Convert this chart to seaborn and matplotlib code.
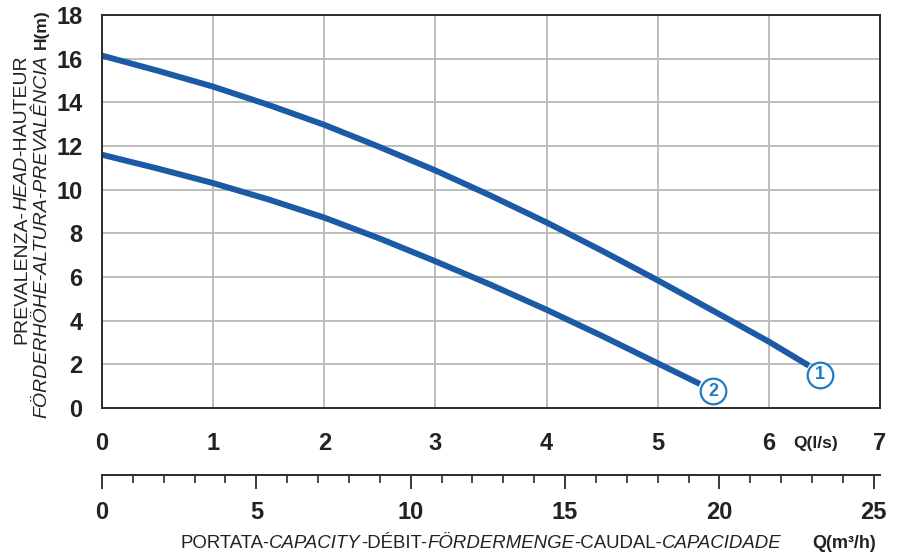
import matplotlib

matplotlib.use("Agg")

import matplotlib.pyplot as plt
import pandas as pd
import seaborn as sns
from matplotlib.ticker import MultipleLocator
from matplotlib.transforms import IdentityTransform

# Pump curves: Q in l/s, H in m
q_curve1 = [0, 0.5, 1, 1.5, 2, 2.5, 3, 3.5, 4, 4.5, 5, 5.5, 6, 6.36]
h_curve1 = [16.14, 15.45, 14.72, 13.88, 12.97, 11.95, 10.88, 9.72, 8.5, 7.2, 5.85, 4.45, 3.04, 1.94]
q_curve2 = [0, 0.5, 1, 1.5, 2, 2.5, 3, 3.5, 4, 4.5, 5, 5.38]
h_curve2 = [11.6, 10.97, 10.3, 9.55, 8.72, 7.76, 6.72, 5.64, 4.5, 3.3, 2.05, 1.1]

curve_names = ["1", "2"]
label_q = [6.46, 5.50]
label_h = [1.53, 0.76]

q_ticks = [0, 1, 2, 3, 4, 5, 6, 7]
h_ticks = [0, 2, 4, 6, 8, 10, 12, 14, 16, 18]
m3h_ticks = [0, 5, 10, 15, 20, 25]

y_line1 = [("PREVALENZA-", "normal"), ("HEAD", "italic"), ("-HAUTEUR", "normal")]
y_line2 = [("FÖRDERHÖHE-ALTURA-PREVALÊNCIA", "italic")]
x_title = [("PORTATA-", "normal"), ("CAPACITY", "italic"), ("-DÉBIT-", "normal"),
           ("FÖRDERMENGE", "italic"), ("-CAUDAL-", "normal"), ("CAPACIDADE", "italic")]

line_blue = "#1b5aa5"
circle_blue = "#1f7cc4"
dark = "#2b2b2b"
grid_grey = "#bdbdbd"

df = pd.concat([
    pd.DataFrame({"q": q_curve1, "h": h_curve1, "curve": curve_names[0]}),
    pd.DataFrame({"q": q_curve2, "h": h_curve2, "curve": curve_names[1]}),
])

sns.set_style("white")
plt.rcParams["font.family"] = ["Liberation Sans", "DejaVu Sans"]

fig = plt.figure(figsize=(9.04, 5.56), dpi=100)
ax = fig.add_axes([0.1128, 0.2662, 0.8606, 0.7068])

sns.lineplot(
    data=df, x="q", y="h", hue="curve",
    palette=[line_blue, line_blue], sort=False,
    linewidth=4.3, legend=False, ax=ax,
    solid_capstyle="butt"
)

ax.set_xlim(0, 7)
ax.set_ylim(0, 18)
ax.set_xticks(q_ticks)
ax.set_yticks(h_ticks)
ax.xaxis.set_minor_locator(MultipleLocator(0.2))
ax.yaxis.set_minor_locator(MultipleLocator(0.5))
ax.set_xlabel("")
ax.set_ylabel("")
ax.grid(which="major", color=grid_grey, linewidth=1.4)
ax.set_axisbelow(True)

for sp in ax.spines.values():
    sp.set_visible(True)
    sp.set_color(dark)
    sp.set_linewidth(1.4)

ax.tick_params(which="major", direction="out", length=9, width=1.3,
               color=dark, labelsize=17, labelcolor="#222222")
ax.tick_params(axis="x", which="major", pad=8)
ax.tick_params(axis="y", which="major", pad=5)
ax.tick_params(which="minor", direction="out", length=5, width=1.2, color=dark)
ax.tick_params(which="both", top=False, right=False)
plt.setp(ax.get_xticklabels() + ax.get_yticklabels(), fontweight="bold")

# second flow scale in m3/h
sec = ax.secondary_xaxis(-0.1705, functions=(lambda q: q * 3.6, lambda m: m / 3.6))
sec.set_xticks(m3h_ticks)
sec.xaxis.set_minor_locator(MultipleLocator(1))
sec.spines["bottom"].set_color(dark)
sec.spines["bottom"].set_linewidth(1.4)
sec.tick_params(which="major", direction="out", length=10, width=1.3,
                color=dark, labelsize=17, pad=9, labelcolor="#222222")
sec.tick_params(which="minor", direction="out", length=6, width=1.2, color=dark)
plt.setp(sec.get_xticklabels(), fontweight="bold")

# curve number circles
ax.scatter(label_q, label_h, s=340, facecolor="white", edgecolor=circle_blue,
           linewidth=1.6, zorder=5, clip_on=False)
for q, h, name in zip(label_q, label_h, curve_names):
    ax.text(q, h, name, ha="center", va="center", fontsize=13,
            fontweight="bold", color=circle_blue, zorder=6)

H = 556
renderer = fig.canvas.get_renderer()


def place(pieces, x, y, rotation, size, end=None):
    texts = []
    pos = 0
    for s, style in pieces:
        t = fig.text(0, 0, s, transform=IdentityTransform(), rotation=rotation,
                     rotation_mode="anchor", ha="left", va="baseline",
                     style=style, fontsize=size, color="#222222")
        bb = t.get_window_extent(renderer)
        texts.append((t, pos))
        pos += bb.height if rotation else bb.width
    start = (end - pos) if end is not None else 0
    for t, p in texts:
        if rotation:
            t.set_position((x, y + start + p))
        else:
            t.set_position((x + start + p, y))


place(y_line1, 26, 0, 90, 14, end=H - 55)
place(y_line2, 46, 0, 90, 14, end=H - 55)
fig.text(46, H - 49, "H(m)", transform=IdentityTransform(), rotation=90,
         rotation_mode="anchor", ha="left", va="baseline",
         fontsize=12.5, fontweight="bold", color="#222222")

place(x_title, 180, H - 548, 0, 13.4)
fig.text(812, H - 548, "Q(m³/h)", transform=IdentityTransform(),
         ha="left", va="baseline", fontsize=13, fontweight="bold", color="#222222")
fig.text(793, H - 448, "Q(l/s)", transform=IdentityTransform(),
         ha="left", va="baseline", fontsize=12.5, fontweight="bold", color="#222222")

fig.savefig("out.png", dpi=100)
plt.close("all")
